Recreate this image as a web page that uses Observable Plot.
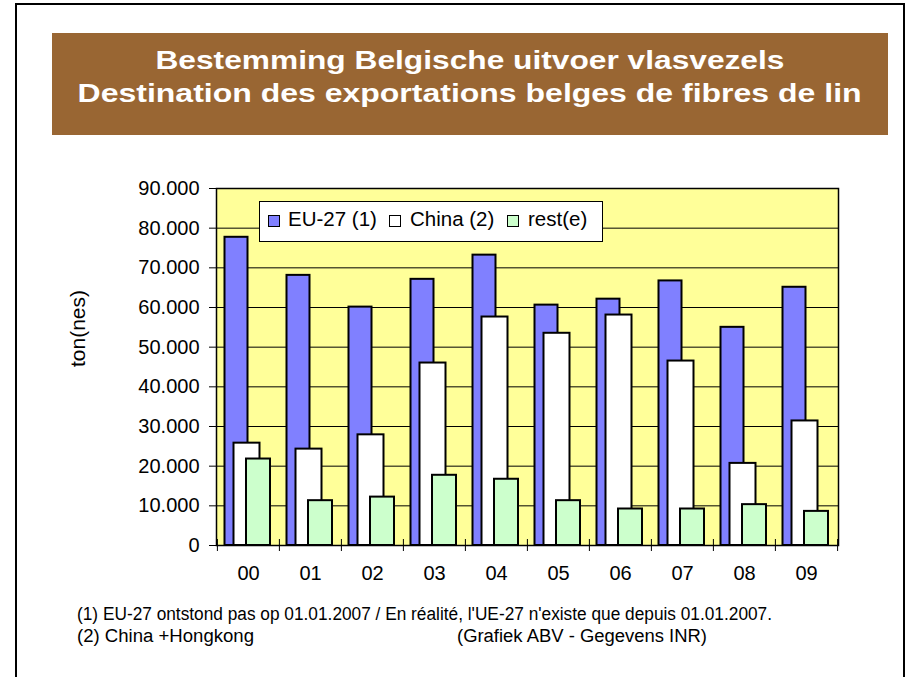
<!DOCTYPE html>
<html>
<head>
<meta charset="utf-8">
<script src="https://cdn.jsdelivr.net/npm/d3@7"></script>
<script src="https://cdn.jsdelivr.net/npm/@observablehq/plot@0.6"></script>
<style>
  html, body { margin: 0; padding: 0; background: #fff; }
  body { font-family: "Liberation Sans", Arial, sans-serif; color: #000; }
  #page { position: relative; width: 907px; height: 677px; overflow: hidden; background: #fff; }
  #border { position: absolute; left: 15px; top: 3px; width: 890px; height: 720px; border: 2px solid #000; box-sizing: border-box; }
  #titlebox { position: absolute; left: 52px; top: 33px; width: 836px; height: 102px; background: #996633; overflow: hidden; }
  .tline { position: absolute; left: 0; width: 836px; text-align: center; color: #fff; font-weight: bold; font-size: 26px; line-height: 26px; white-space: nowrap; }
  .tline span { display: inline-block; transform-origin: center; }
  #chart { position: absolute; left: 0; top: 160px; }
  #legend { position: absolute; left: 259px; top: 201px; width: 344px; height: 41px; background: #fff; border: 1px solid #000; box-sizing: border-box; }
  .sw { position: absolute; width: 12px; height: 12px; border: 1px solid #000; box-sizing: border-box; }
  .lt { position: absolute; font-size: 20.5px; line-height: 20px; white-space: nowrap; }
  .fn { position: absolute; font-size: 18px; line-height: 18px; white-space: nowrap; transform-origin: left center; }
</style>
</head>
<body>
<div id="page">
  <div id="border"></div>
  <div id="titlebox"></div>
  <div id="chart"></div>
  <div id="legend"></div>
</div>
<script>
// ---- data ----
const years = ["00", "01", "02", "03", "04", "05", "06", "07", "08", "09"];
const eu27  = [77700, 68100, 60100, 67100, 73200, 60600, 62100, 66700, 55000, 65100];
const china = [25800, 24300, 27900, 46000, 57600, 53500, 58100, 46500, 20700, 31400];
const rest  = [21800, 11300, 12200, 17700, 16700, 11300, 9200, 9200, 10300, 8600];
const seriesNames = ["EU-27 (1)", "China (2)", "rest(e)"];
const seriesColors = ["#8080FF", "#FFFFFF", "#CCFFCC"];
const yTicks = [0, 10000, 20000, 30000, 40000, 50000, 60000, 70000, 80000, 90000];
const yLabel = "ton(nes)";
const titleLines = ["Bestemming Belgische uitvoer vlasvezels", "Destination des exportations belges de fibres de lin"];
const footnote1 = "(1) EU-27 ontstond pas op 01.01.2007 / En réalité, l'UE-27 n'existe que depuis 01.01.2007.";
const footnote2 = "(2) China +Hongkong";
const sourceNote = "(Grafiek ABV - Gegevens INR)";

// ---- title ----
const titlebox = document.getElementById("titlebox");
const titleTops = [14, 47];
const titleWidths = [629, 784];
titleLines.forEach((t, i) => {
  const d = document.createElement("div");
  d.className = "tline";
  d.style.top = titleTops[i] + "px";
  const s = document.createElement("span");
  s.textContent = t;
  d.appendChild(s);
  titlebox.appendChild(d);
  const w = s.getBoundingClientRect().width;
  s.style.transform = `scaleX(${titleWidths[i] / w})`;
});

// ---- chart ----
const W = 907, H = 440;
const mL = 216, mR = 69, mT = 28, mB = 55;
const bw = (W - mL - mR) / years.length;
const rows = (vals) => years.map((y, i) => ({year: y, value: vals[i]}));
const nl = d3.formatLocale({decimal: ",", thousands: ".", grouping: [3], currency: ["", ""]});
const fmt = nl.format(",");
const barStyle = {x: "year", y: "value", stroke: "#000", strokeWidth: 2};

const chart = Plot.plot({
  width: W, height: H,
  marginLeft: mL, marginRight: mR, marginTop: mT, marginBottom: mB,
  style: {fontFamily: '"Liberation Sans", Arial, sans-serif', fontSize: "20px", color: "#000", background: "transparent", overflow: "visible"},
  x: {type: "band", domain: years, padding: 0},
  y: {domain: [0, 90000]},
  marks: [
    Plot.frame({fill: "#FFFF99"}),
    Plot.gridY(yTicks, {stroke: "#000", strokeOpacity: 1, strokeWidth: 1}),
    Plot.rectY(rows(eu27),  {...barStyle, fill: seriesColors[0], insetLeft: 7.5,  insetRight: 31.5}),
    Plot.rectY(rows(china), {...barStyle, fill: seriesColors[1], insetLeft: 16.5, insetRight: 19.5}),
    Plot.rectY(rows(rest),  {...barStyle, fill: seriesColors[2], insetLeft: 29,   insetRight: 9}),
    Plot.frame({stroke: "#000", strokeWidth: 1.5}),
    Plot.axisY({ticks: yTicks, tickFormat: fmt, tickSize: 7, tickPadding: 10, label: null, stroke: "#000"}),
    Plot.axisX({tickSize: 0, tickPadding: 20, label: null}),
    Plot.axisX({tickSize: 12, dy: -6, dx: -bw / 2, tickFormat: () => "", label: null, stroke: "#000"}),
    Plot.axisX({ticks: [years[years.length - 1]], tickSize: 12, dy: -6, dx: bw / 2, tickFormat: () => "", label: null, stroke: "#000"}),
    Plot.text([yLabel], {text: d => d, frameAnchor: "left", rotate: -90, dx: -138, fontSize: 21, fill: "#000"})
  ]
});
document.getElementById("chart").appendChild(chart);

// ---- legend ----
const legend = document.getElementById("legend");
const swX = [268, 389, 507], txX = [288, 410, 528];
seriesNames.forEach((n, i) => {
  const sq = document.createElement("div");
  sq.className = "sw";
  sq.style.left = (swX[i] - 259 - 1) + "px";
  sq.style.top = (215 - 201 - 1) + "px";
  sq.style.background = seriesColors[i];
  legend.appendChild(sq);
  const t = document.createElement("div");
  t.className = "lt";
  t.style.left = (txX[i] - 259 - 1) + "px";
  t.style.top = (209 - 201 - 1) + "px";
  t.textContent = n;
  legend.appendChild(t);
});

// ---- footnotes ----
const page = document.getElementById("page");
const notes = [
  {text: footnote1, left: 77, top: 605, width: 695},
  {text: footnote2, left: 77, top: 627, width: 177},
  {text: sourceNote, left: 457, top: 627, width: 250}
];
notes.forEach(n => {
  const d = document.createElement("div");
  d.className = "fn";
  d.style.left = n.left + "px";
  d.style.top = n.top + "px";
  d.textContent = n.text;
  page.appendChild(d);
  const w = d.getBoundingClientRect().width;
  d.style.transform = `scaleX(${n.width / w})`;
});
</script>
</body>
</html>
